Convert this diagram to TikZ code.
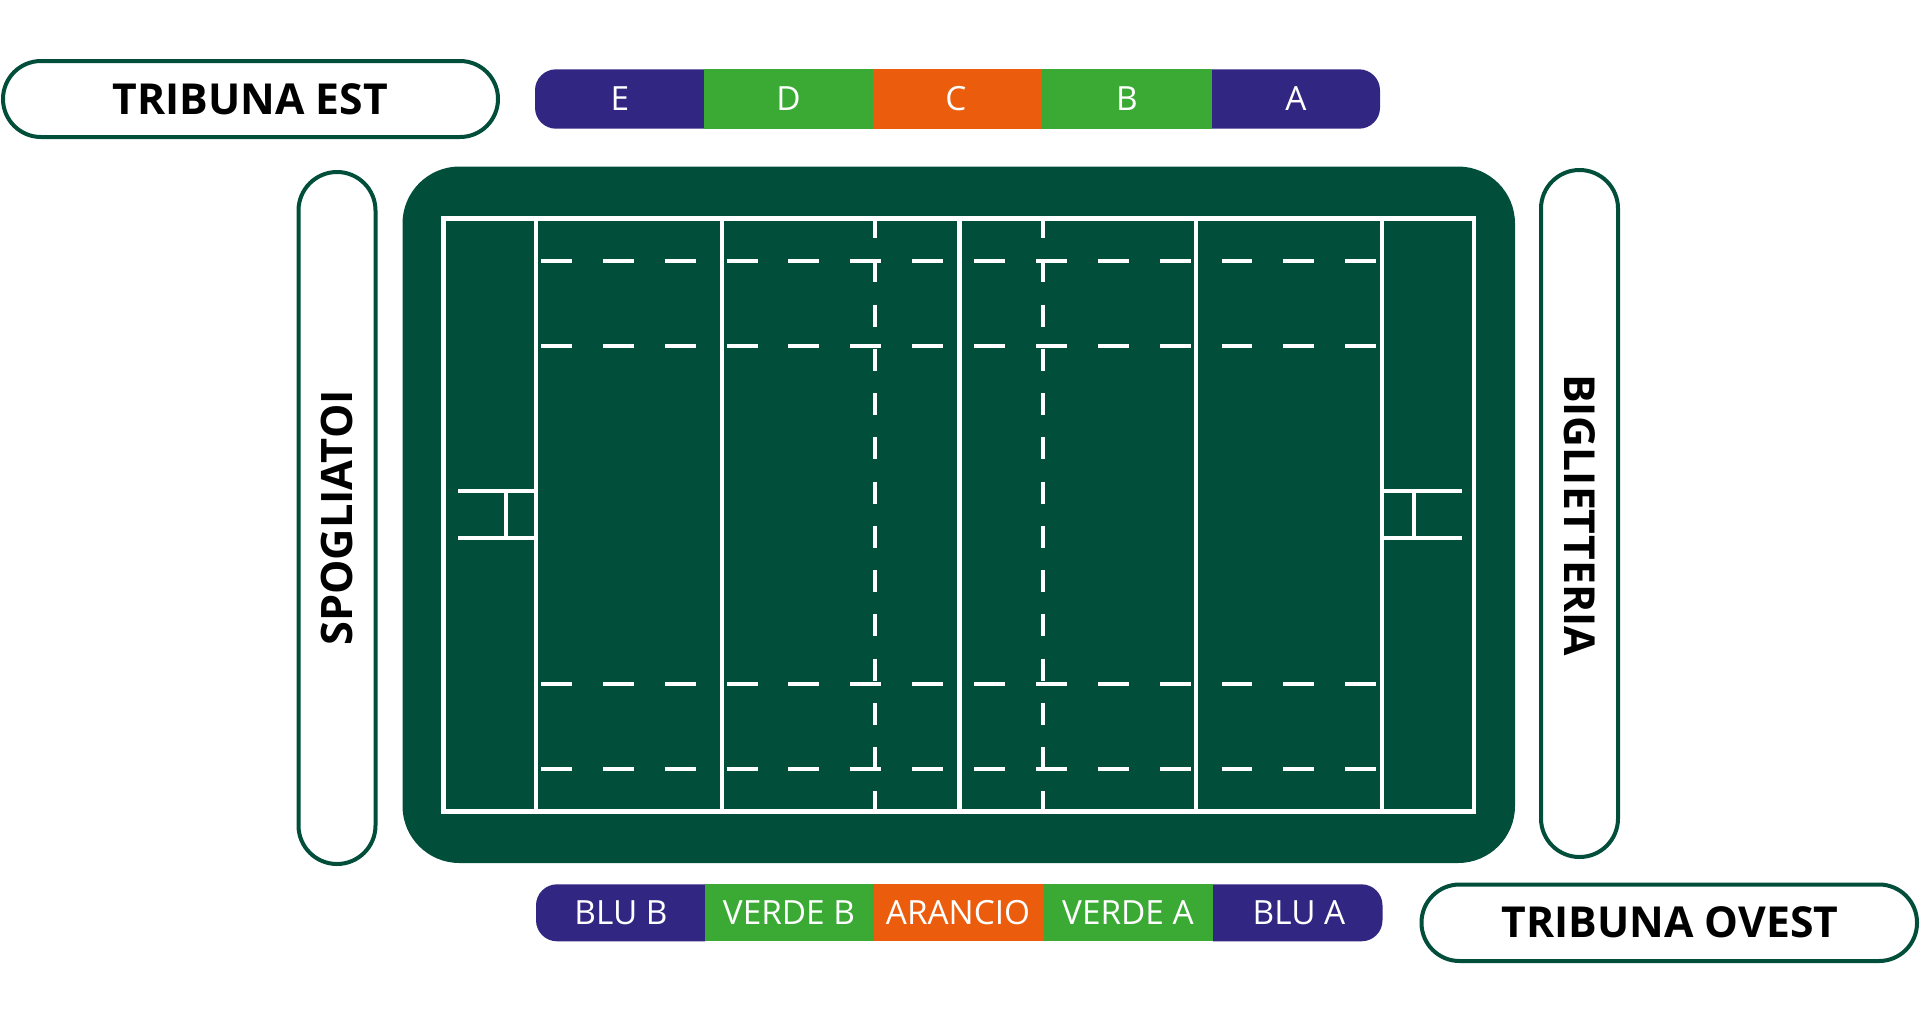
\documentclass[tikz,border=0pt]{standalone}
\usepackage{fontspec}
\setmainfont{Open Sans}

\definecolor{fieldgreen}{RGB}{1,79,58}
\definecolor{barblue}{RGB}{49,39,131}
\definecolor{bargreen}{RGB}{58,170,53}
\definecolor{barorange}{RGB}{236,92,13}

\tikzset{every picture/.style={line width=0.75pt}}
\tikzset{
  pillbox/.style={draw=fieldgreen,line width=3pt,fill=white},
  pilltext/.style={font=\fontsize{32}{32}\selectfont\bfseries,text=black,inner sep=0pt},
  sidetext/.style={font=\fontsize{32.5}{32.5}\selectfont\bfseries,text=black,inner sep=0pt},
  bartext/.style={font=\fontsize{25}{25}\selectfont,text=white,inner sep=0pt},
  fieldline/.style={draw=white,line width=3.15pt},
  halfdash/.style={draw=white,line width=3.6pt,dash pattern=on 23.2pt off 23.2pt},
  longdash/.style={draw=white,line width=3pt,dash pattern=on 16.5pt off 16.7pt}
}
% left, top, right, bottom, radius
\newcommand{\roundbox}[5]{({#1+#5},#2) -- ({#3-#5},#2) arc[start angle=270,end angle=360,radius=#5]
  -- (#3,{#4-#5}) arc[start angle=0,end angle=90,radius=#5]
  -- ({#1+#5},#4) arc[start angle=90,end angle=180,radius=#5]
  -- (#1,{#2+#5}) arc[start angle=180,end angle=270,radius=#5] -- cycle}

\begin{document}
\begin{tikzpicture}[x=0.75pt,y=0.75pt,yscale=-1,xscale=1]
	\path[use as bounding box] (0,0) rectangle (1920,1022);

	% Labels round the field
	\draw [pillbox] \roundbox{3}{61}{498}{137}{38};
	\draw [pillbox] \roundbox{1421.5}{884.5}{1917}{961}{38};
	\draw [pillbox] \roundbox{298.5}{172}{375.5}{864}{38.5};
	\draw [pillbox] \roundbox{1541}{170}{1618}{857}{38.5};

	% Top bar
	\fill [barblue] (704,69.3) -- (556,69.3) arc[start angle=270,end angle=180,radius=21] -- (535,107.7) arc[start angle=180,end angle=90,radius=21] -- (704,128.7) -- cycle;
	\fill [bargreen] (704,69.3) rectangle (873,128.7);
	\fill [barorange] (873,69.3) rectangle (1042,128.7);
	\fill [bargreen] (1042,69.3) rectangle (1212,128.7);
	\fill [barblue] (1212,69.3) -- (1359,69.3) arc[start angle=270,end angle=360,radius=21] -- (1380,107.7) arc[start angle=0,end angle=90,radius=21] -- (1212,128.7) -- cycle;

	% Bottom bar
	\fill [barblue] (705,884.3) -- (557,884.3) arc[start angle=270,end angle=180,radius=21] -- (536,920.3) arc[start angle=180,end angle=90,radius=21] -- (705,941.3) -- cycle;
	\fill [bargreen] (705,884.3) rectangle (874,941.3);
	\fill [barorange] (874,884.3) rectangle (1043.5,941.3);
	\fill [bargreen] (1043.5,884.3) rectangle (1213,941.3);
	\fill [barblue] (1213,884.3) -- (1361.5,884.3) arc[start angle=270,end angle=360,radius=21] -- (1382.5,920.3) arc[start angle=0,end angle=90,radius=21] -- (1213,941.3) -- cycle;

	% Field
	\fill [fieldgreen] \roundbox{402.5}{166.5}{1515}{863}{57};
	\draw [fieldline] (443.5,218.5) rectangle (1474,811.5);
	\draw [fieldline] (536,218.5) -- (536,811.5);
	\draw [fieldline] (722,218.5) -- (722,811.5);
	\draw [fieldline] (959.5,218.5) -- (959.5,811.5);
	\draw [fieldline] (1196,218.5) -- (1196,811.5);
	\draw [fieldline] (1382,218.5) -- (1382,811.5);

	% Posts
	\draw [fieldline] (458,490.7) -- (536,490.7);
	\draw [fieldline] (458,537.7) -- (536,537.7);
	\draw [fieldline] (506,490.7) -- (506,537.7);
	\draw [fieldline] (1382,490.7) -- (1462,490.7);
	\draw [fieldline] (1382,537.7) -- (1462,537.7);
	\draw [fieldline] (1414,490.7) -- (1414,537.7);

	% Dashed lines
	\draw [halfdash] (541,261) -- (1377,261);
	\draw [halfdash] (541,346) -- (1377,346);
	\draw [halfdash] (541,684) -- (1377,684);
	\draw [halfdash] (541,769) -- (1377,769);
	\draw [longdash] (874.5,216) -- (874.5,814);
	\draw [longdash] (1043,216) -- (1043,814);

	% Text Node
	\node [pilltext] (tribunaest) at (250.5,99) {TRIBUNA EST};
	% Text Node
	\node [pilltext] (tribunaovest) at (1670,922.7) {TRIBUNA OVEST};
	% Text Node
	\node [sidetext,rotate=90] (spogliatoi) at (337,518) {SPOGLIATOI};
	% Text Node
	\node [pilltext,rotate=-90] (biglietteria) at (1580,515) {BIGLIETTERIA};

	% Text Node
	\node [bartext] (sete) at (620,99) {E};
	% Text Node
	\node [bartext] (setd) at (788.5,99) {D};
	% Text Node
	\node [bartext] (setc) at (956,99) {C};
	% Text Node
	\node [bartext] (setb) at (1127,99) {B};
	% Text Node
	\node [bartext] (seta) at (1296,99) {A};
	% Text Node
	\node [bartext] (blub) at (621,913) {BLU B};
	% Text Node
	\node [bartext] (verdeb) at (789,913) {VERDE B};
	% Text Node
	\node [bartext] (arancio) at (958,913) {ARANCIO};
	% Text Node
	\node [bartext] (verdea) at (1128,913) {VERDE A};
	% Text Node
	\node [bartext] (blua) at (1299,913) {BLU A};

\end{tikzpicture}
\end{document}
